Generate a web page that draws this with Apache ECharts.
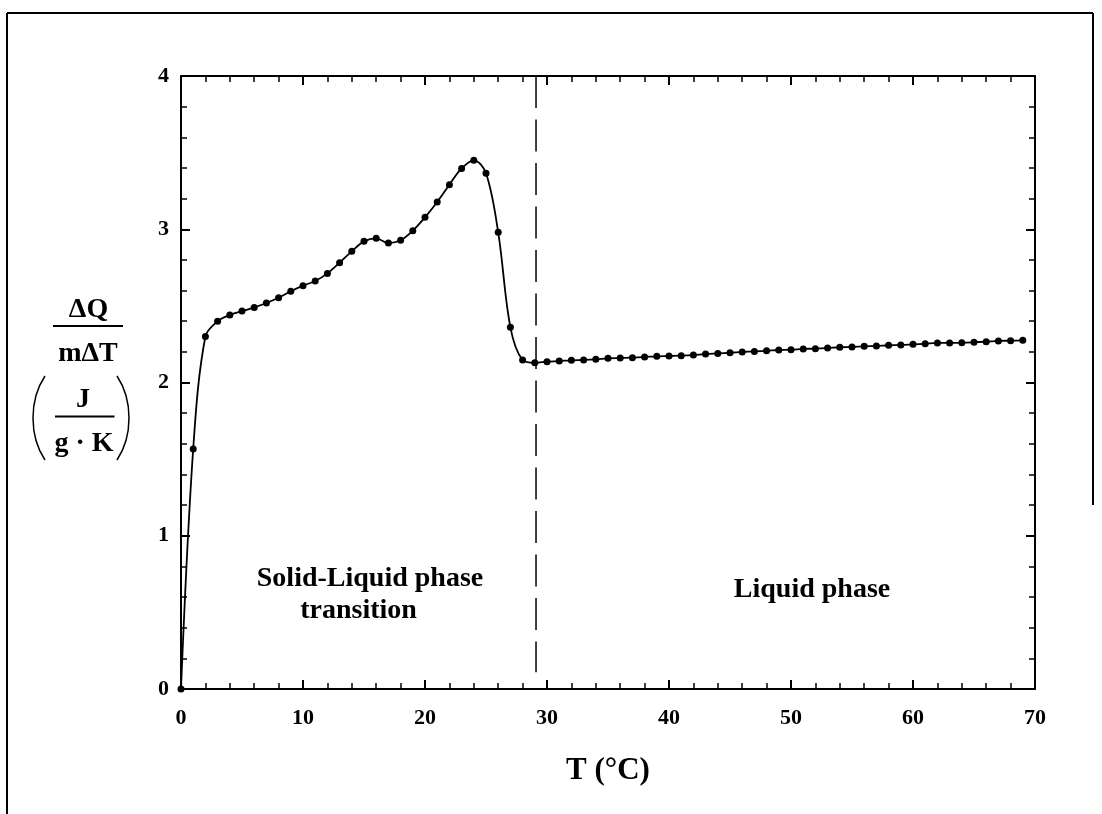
<!DOCTYPE html>
<html>
<head>
<meta charset="utf-8">
<script src="https://cdn.jsdelivr.net/npm/echarts@6/dist/echarts.min.js"></script>
<style>
html,body{margin:0;padding:0;background:#fff;}
#chart{width:1102px;height:814px;}
</style>
</head>
<body>
<div id="chart"></div>
<script>
// ---- data ----
const temperatures = [0,1,2,3,4,5,6,7,8,9,10,11,12,13,14,15,16,17,18,19,20,21,22,23,24,25,26,27,28,29,30,31,32,33,34,35,36,37,38,39,40,41,42,43,44,45,46,47,48,49,50,51,52,53,54,55,56,57,58,59,60,61,62,63,64,65,66,67,68,69];
const heatCapacity = [0,1.566,2.30,2.40,2.44,2.466,2.49,2.519,2.553,2.595,2.632,2.662,2.712,2.782,2.856,2.921,2.941,2.910,2.928,2.991,3.078,3.178,3.291,3.397,3.450,3.365,2.980,2.360,2.147,2.129,2.136,2.140,2.145,2.147,2.151,2.158,2.160,2.162,2.166,2.171,2.173,2.175,2.179,2.186,2.190,2.194,2.199,2.203,2.207,2.212,2.214,2.219,2.221,2.225,2.230,2.232,2.236,2.238,2.243,2.245,2.249,2.253,2.258,2.258,2.260,2.262,2.266,2.271,2.273,2.275];
const dividerT = 29.1;
const dividerRange = [0.11, 4];
const xTickValues = [0,10,20,30,40,50,60,70];
const yTickValues = [0,1,2,3,4];
const xTitle = 'T (°C)';
const regionLabels = ['Solid-Liquid phase', 'transition', 'Liquid phase'];

const FONT = "'Liberation Serif','Times New Roman',serif";
const chart = echarts.init(document.getElementById('chart'), null, {renderer:'canvas'});

function axisCommon(showLabel){
  return {
    axisLine:{show:true,onZero:false,lineStyle:{color:'#000',width:2}},
    axisTick:{show:true,inside:true,length:9,lineStyle:{color:'#000',width:2}},
    minorTick:{show:true,splitNumber:5,length:6,lineStyle:{color:'#000',width:1.5}},
    splitLine:{show:false},
    minorSplitLine:{show:false},
    axisLabel:{show:showLabel,color:'#000',fontFamily:FONT,fontWeight:'bold',fontSize:22,showMinLabel:true,showMaxLabel:true}
  };
}

const seriesData = temperatures.map((t,i)=>[t,heatCapacity[i]]);

const option = {
  backgroundColor:'#fff',
  animation:false,
  grid:{left:181,right:67,top:76,bottom:125,containLabel:false},
  xAxis:[
    Object.assign({type:'value',min:0,max:70,interval:10,position:'bottom',
      name:xTitle,nameLocation:'middle',nameGap:66,
      nameTextStyle:{color:'#000',fontFamily:FONT,fontWeight:'bold',fontSize:31}}, axisCommon(true),
      {axisLabel:Object.assign(axisCommon(true).axisLabel,{margin:18,formatter:v=>xTickValues.includes(v)?String(v):''})}),
    Object.assign({type:'value',min:0,max:70,interval:10,position:'top'}, axisCommon(false))
  ],
  yAxis:[
    Object.assign({type:'value',min:0,max:4,interval:1,position:'left'}, axisCommon(true),
      {axisLabel:Object.assign(axisCommon(true).axisLabel,{margin:12,formatter:v=>yTickValues.includes(v)?String(v):''})}),
    Object.assign({type:'value',min:0,max:4,interval:1,position:'right'}, axisCommon(false))
  ],
  series:[
    {
      type:'line',
      data:seriesData,
      smooth:0.35,
      symbol:'circle',
      symbolSize:7,
      itemStyle:{color:'#000'},
      lineStyle:{color:'#000',width:1.8},
      z:3
    },
    {
      type:'line',
      data:[[dividerT,dividerRange[1]],[dividerT,dividerRange[0]]],
      symbol:'none',
      lineStyle:{color:'#000',width:1.5,type:[32,11.5]},
      z:2
    }
  ],
  graphic:[
    // outer frame
    {type:'line',shape:{x1:7,y1:13,x2:1093,y2:13},style:{stroke:'#000',lineWidth:2}},
    {type:'line',shape:{x1:7,y1:13,x2:7,y2:814},style:{stroke:'#000',lineWidth:2}},
    {type:'line',shape:{x1:1093,y1:13,x2:1093,y2:505},style:{stroke:'#000',lineWidth:2}},
    // y-axis title: ΔQ / mΔT ( J / g·K )
    {type:'text',x:88.5,y:310,style:{text:'ΔQ',font:"bold 28px "+FONT,fill:'#000',align:'center',verticalAlign:'middle'}},
    {type:'line',shape:{x1:53,y1:326,x2:123,y2:326},style:{stroke:'#000',lineWidth:2}},
    {type:'text',x:88,y:354,style:{text:'mΔT',font:"bold 28px "+FONT,fill:'#000',align:'center',verticalAlign:'middle'}},
    {type:'bezierCurve',shape:{x1:45,y1:376,cpx1:29,cpy1:400,cpx2:29,cpy2:436,x2:45,y2:460},style:{stroke:'#000',lineWidth:1.5,fill:null}},
    {type:'bezierCurve',shape:{x1:117,y1:376,cpx1:133,cpy1:400,cpx2:133,cpy2:436,x2:117,y2:460},style:{stroke:'#000',lineWidth:1.5,fill:null}},
    {type:'text',x:83,y:400,style:{text:'J',font:"bold 28px "+FONT,fill:'#000',align:'center',verticalAlign:'middle'}},
    {type:'line',shape:{x1:55,y1:416.5,x2:114.5,y2:416.5},style:{stroke:'#000',lineWidth:2}},
    {type:'text',x:84,y:444,style:{text:'g · K',font:"bold 28px "+FONT,fill:'#000',align:'center',verticalAlign:'middle'}},
    // region annotations
    {type:'text',x:370,y:579,style:{text:regionLabels[0],font:"bold 28px "+FONT,fill:'#000',align:'center',verticalAlign:'middle'}},
    {type:'text',x:358.5,y:611,style:{text:regionLabels[1],font:"bold 28px "+FONT,fill:'#000',align:'center',verticalAlign:'middle'}},
    {type:'text',x:812,y:590,style:{text:regionLabels[2],font:"bold 28px "+FONT,fill:'#000',align:'center',verticalAlign:'middle'}}
  ]
};
chart.setOption(option);
</script>
</body>
</html>
